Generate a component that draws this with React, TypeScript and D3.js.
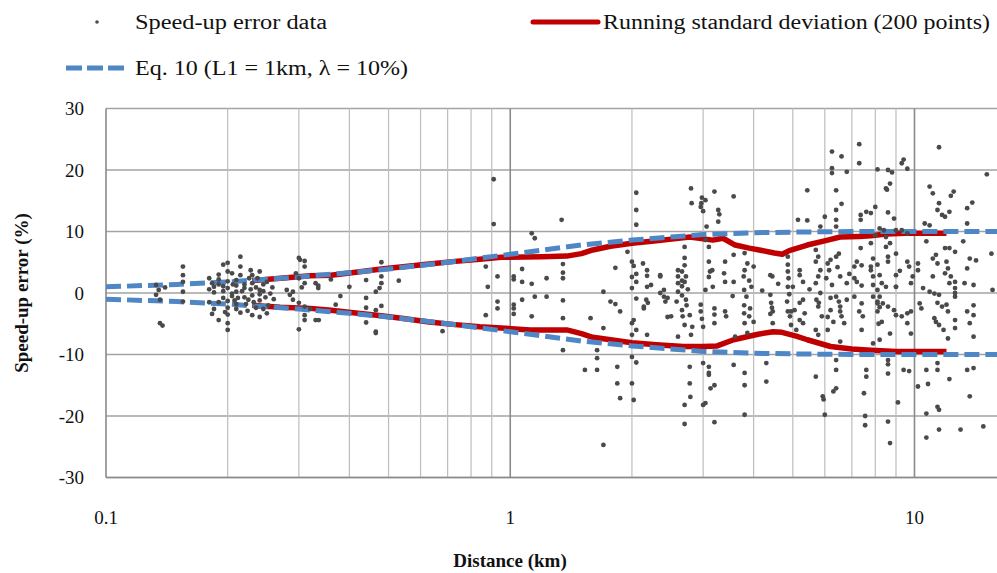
import React from "react";
import * as d3 from "d3";

const W = 997;
const H = 573;
const plot = { left: 106, right: 997, top: 108.5, bottom: 477.5 };

// axis ticks
const xTickValues = [0.1, 1, 10];
const xMinorGrid = [0.2, 0.3, 0.4, 0.5, 0.6, 0.7, 0.8, 0.9, 2, 3, 4, 5, 6, 7, 8, 9];
const xMajorGrid = [1, 10];
const yTickValues = [-30, -20, -10, 0, 10, 20, 30];

// Eq. 10 curve (upper branch; lower branch is its mirror)
const eqDistance = [0.1, 0.15, 0.2, 0.3, 0.4, 0.5, 0.7, 1, 1.5, 2, 3, 4, 5, 7, 10, 16];
const eqValue = [1.0, 1.4, 1.8, 2.6, 3.3, 3.9, 5.0, 6.3, 7.8, 8.6, 9.5, 9.8, 9.9, 10, 10, 10];

// running standard deviation, upper and lower
const stdUpperDistance = [0.23, 0.27, 0.32, 0.36, 0.42, 0.48, 0.55, 0.63, 0.72, 0.84, 0.95, 1.2, 1.38, 1.5, 1.6, 1.77, 2.0, 2.3, 2.54, 2.78, 3.0, 3.17, 3.36, 3.6, 3.9, 4.13, 4.5, 4.71, 4.9, 5.43, 6.1, 6.55, 7.3, 7.8, 8.5, 9.5, 12];
const stdUpperValue = [2.0, 2.4, 2.8, 2.9, 3.4, 3.9, 4.3, 4.7, 5.1, 5.5, 5.8, 5.9, 6.0, 6.4, 7.0, 7.6, 8.1, 8.5, 8.8, 9.1, 8.8, 8.6, 8.9, 7.8, 7.3, 7.0, 6.5, 6.3, 6.9, 7.8, 8.6, 9.1, 9.2, 9.3, 9.6, 9.7, 9.7];
const stdLowerDistance = [0.23, 0.27, 0.32, 0.36, 0.42, 0.48, 0.55, 0.63, 0.72, 0.84, 0.95, 1.12, 1.38, 1.5, 1.6, 1.77, 2.0, 2.3, 2.68, 3.0, 3.25, 3.57, 3.8, 4.1, 4.47, 4.7, 5.1, 5.43, 6.2, 7.0, 7.8, 9, 12];
const stdLowerValue = [-2.0, -2.3, -2.5, -2.8, -3.3, -3.7, -4.2, -4.7, -5.1, -5.5, -5.7, -6.0, -6.0, -6.6, -7.2, -7.6, -8.1, -8.4, -8.7, -8.7, -8.6, -7.6, -7.2, -6.7, -6.3, -6.4, -7.0, -7.6, -8.7, -9.1, -9.3, -9.5, -9.5];

// speed-up error data [distance km, error %]
const nearPoints: [number, number][] = [
  [0.133, 1.3], [0.135, 0.5], [0.133, -0.3], [0.136, -1.1], [0.14, 0.9], [0.136, -4.9], [0.138, -5.3],
  [0.155, 4.3], [0.155, 2.9], [0.155, 1.8], [0.155, 0.2], [0.155, -1.4],
  [0.18, 2.4], [0.183, 1.6], [0.18, 0.6], [0.185, 0.1], [0.195, 4.6], [0.19, 3.0], [0.19, 1.4], [0.195, 0.3],
  [0.195, -0.8], [0.19, -1.5], [0.2, -1.3], [0.2, -2.4], [0.2, 0.8], [0.2, 1.9], [0.205, 3.2], [0.2, 4.9],
  [0.19, -4.4], [0.2, -4.9], [0.2, -6.0], [0.205, -0.1], [0.208, -1.2], [0.21, -2.6], [0.21, 1.2], [0.21, 2.1],
  [0.215, 4.3], [0.215, 5.9], [0.215, 2.9], [0.22, 1.4], [0.217, 0.3], [0.22, -0.7], [0.222, -1.8], [0.224, -2.9],
  [0.228, 3.7], [0.226, 2.4], [0.23, 1.6], [0.228, 0.6], [0.23, -0.4], [0.232, -1.5], [0.23, -3.6], [0.235, 0.9],
  [0.237, 2.4], [0.24, 3.5], [0.24, -0.2], [0.24, -1.2], [0.24, -3.9], [0.245, 1.4], [0.245, 0.3], [0.248, -0.7],
  [0.25, -3.3], [0.252, -2.0], [0.255, -0.1], [0.258, 0.9], [0.212, -0.8], [0.21, 0.2], [0.206, 1.4], [0.197, -3.1],
  [0.185, -2.6], [0.18, -1.5], [0.183, -3.4],
  [0.19, 2.2], [0.2, 3.5], [0.21, -1.8], [0.22, 0.8], [0.225, -1.1], [0.235, -2.4], [0.23, 2.9], [0.215, -3.2],
  [0.205, -0.5], [0.195, 1.1], [0.24, 0.5], [0.25, 1.8], [0.245, -2.6], [0.26, -1.0], [0.2, -3.5], [0.185, 1.0],
  [0.3, 5.7], [0.302, 5.4], [0.31, 5.2], [0.31, 4.3], [0.3, 2.4], [0.31, 1.6], [0.29, 0.2], [0.31, -2.2],
  [0.31, -3.6], [0.31, -4.4], [0.3, -5.9], [0.29, -1.1], [0.33, 1.6], [0.335, 1.2], [0.33, -4.4], [0.336, -4.4],
  [0.335, 0.8], [0.28, 0.5], [0.285, -0.3], [0.3, -1.6], [0.305, 0.9], [0.32, -2.6], [0.295, 3.2],
  [0.44, 2.1], [0.48, 5.0], [0.48, 2.7], [0.48, 1.6], [0.475, 0.8], [0.465, 0.2], [0.44, -0.8], [0.44, -2.4],
  [0.465, -2.8], [0.48, -2.1], [0.44, -4.8], [0.465, -6.3], [0.465, -6.5], [0.53, 2.0], [0.38, -0.5], [0.4, 1.0],
  [0.36, 2.2], [0.37, -1.9],
];

const midPoints: [number, number][] = [
  [0.68, -6.2], [0.87, 4.3], [0.88, 1.0], [0.93, 2.7], [0.91, 18.5], [0.91, 11.2], [0.93, -1.4], [0.93, -2.5], [0.87, -3.6],
  [1.02, 2.7], [1.02, 2.2], [1.07, 3.9], [1.07, 1.8], [1.07, -1.1], [1.02, -1.9], [1.02, -2.5], [1.02, -3.4],
  [1.13, 9.7], [1.15, 8.9], [1.34, 11.9], [1.13, 1.5], [1.23, 2.4], [1.35, 4.7], [1.35, 3.3], [1.35, 2.4],
  [1.15, -0.6], [1.23, -0.6], [1.13, -3.8], [1.35, -1.2], [1.35, -4.1], [1.35, -9.3], [1.58, -4.1], [1.64, -9.3],
  [1.64, -10.6], [1.64, -12.5], [1.53, -12.5], [1.82, 4.1], [1.7, 0.2], [1.77, -1.4], [1.82, -1.8], [1.87, -3.0],
  [1.84, -12.0], [1.84, -14.7], [1.87, -17.1], [1.7, -24.7], [1.95, 6.7], [1.7, -5.7],
  [2.05, 16.3], [2.05, 13.5], [2.05, 11.1], [2.0, 5.1], [2.02, 4.4], [2.05, 3.1], [2.0, 2.6], [2.05, 1.8],
  [2.0, 0.8], [2.05, -0.9], [2.02, -4.4], [2.0, -4.9], [2.05, -6.0], [2.0, -6.8], [2.0, -10.4], [2.0, -14.7],
  [2.02, -17.4], [2.05, -11.3],
  [2.13, 4.8], [2.18, 3.7], [2.18, 2.8], [2.18, 1.0], [2.17, -1.1], [2.19, -1.6], [2.14, -2.5], [2.23, 1.3],
  [2.35, 2.7], [2.4, 0.5], [2.4, -0.6], [2.42, -1.4], [2.45, -3.9], [2.6, 3.7], [2.6, 2.7], [2.6, 1.6],
  [2.6, 0.2], [2.58, -1.4], [2.66, -2.8], [2.7, 7.5], [2.7, 5.7], [2.7, 4.5], [2.72, 2.7], [2.7, 1.8],
  [2.75, 0.6], [2.72, -1.1], [2.73, -2.0], [2.78, -3.6], [2.6, -7.1], [2.82, -5.5], [2.78, -12.0], [2.78, -14.7],
  [2.79, -16.9], [2.7, -18.2], [2.7, -21.3], [2.8, 17.0], [2.81, 14.6], [2.96, -1.9], [2.96, -3.0], [2.98, -4.2],
  [3.0, -5.5], [2.96, 14.0], [3.0, 13.3], [3.04, 15.1], [3.06, 10.8], [3.04, 8.6], [3.04, 0.5], [3.1, 7.5],
  [3.1, 5.1], [3.12, 3.5], [3.1, 2.6], [3.16, 3.7], [3.17, 1.0], [3.2, -2.5], [3.2, -3.5], [3.2, -4.9],
  [3.2, 16.5], [3.27, 13.5], [3.29, 12.8], [3.27, 11.6], [3.1, -12.0], [3.1, -13.3], [3.13, -15.5], [3.2, -15.0],
  [3.04, -17.9], [3.2, -21.0], [3.4, 5.1], [3.38, 3.2], [3.4, 1.8], [3.4, -3.0], [3.42, -3.8], [3.57, 15.7],
  [3.57, 6.2], [3.57, 1.8], [3.55, -0.5], [3.57, -11.7], [3.6, -7.1], [3.8, -19.8], [2.97, 14.6], [2.98, 15.5],
  [3.0, -11.4], [3.0, -18.2], [3.1, -13.0], [2.35, 0.0], [2.45, -0.8], [2.66, 3.5], [2.66, 2.0], [2.66, 1.1],
  [2.66, -0.4], [2.67, -3.8], [2.7, -5.2], [2.8, -6.8], [2.14, -2.2], [2.18, -6.8], [2.35, 2.9], [2.5, -3.8],
];

const farPoints: [number, number][] = [
  [7.3, 24.2], [7.3, 21.1], [6.25, 23.0], [6.6, 22.2], [6.25, 20.3], [6.25, 19.5], [6.8, 19.7], [5.43, 16.7],
  [6.4, 16.7], [6.6, 14.5], [6.4, 13.5], [5.15, 11.9], [5.43, 11.8], [6.0, 12.4], [6.4, 11.9], [5.85, 10.8],
  [6.4, 10.8], [7.36, 12.7], [7.6, 13.2], [7.36, 11.9],
  [3.8, 6.5], [3.86, 4.8], [3.8, 3.7], [3.78, 2.7], [3.9, 2.0], [3.95, 1.0], [3.79, 0.5], [3.84, -0.6],
  [3.79, -2.0], [3.92, -2.5], [3.79, -3.3], [3.9, -3.8], [3.8, -4.9], [4.0, -4.7], [3.86, -6.5], [3.8, -13.0],
  [3.8, -15.0], [4.0, 4.3], [4.4, 2.9], [4.4, -0.3], [4.42, -1.6], [4.44, -2.4], [4.46, -3.0], [4.4, -3.4],
  [4.46, -4.9], [4.3, -11.4], [4.3, -14.4], [4.86, 5.9], [4.86, 4.6], [4.86, 3.5], [4.88, 2.4], [4.86, 1.0],
  [4.9, -0.2], [4.84, -1.4], [4.86, -3.0], [4.95, -3.0], [4.92, -3.8], [4.95, -5.2], [5.1, -6.0], [5.2, 3.7],
  [5.2, 2.9], [5.3, 1.8], [5.3, -1.1], [5.2, -1.6], [5.35, -3.3], [5.3, -4.9], [5.7, 7.0], [5.78, 5.9],
  [5.7, 5.1], [5.85, 3.7], [5.78, 2.7], [5.7, 1.6], [5.85, 0.0], [5.72, -1.1], [5.78, -2.2], [5.9, -3.8],
  [5.7, -6.0], [5.78, -6.8], [5.7, -13.6], [5.93, -16.8], [5.96, -17.3], [6.0, -19.8], [6.1, 4.8], [6.15, 3.7],
  [6.05, 2.4], [6.25, 1.3], [6.2, -0.8], [6.2, -2.8], [6.1, -3.9], [6.3, -4.7], [6.1, -6.0], [6.4, -10.9],
  [6.4, -12.5], [6.4, -15.5], [6.3, -16.0], [6.5, 6.4], [6.4, 5.9], [6.45, 4.2], [6.55, 2.7], [6.4, -0.6],
  [6.5, -1.4], [6.55, -2.2], [6.6, -3.8], [6.7, -4.9], [6.55, -7.9], [6.8, 1.6], [6.8, -1.1], [7.1, 4.3],
  [7.2, 1.8], [7.4, 1.2], [7.1, -0.6], [7.4, -1.7], [7.3, -3.0], [7.2, 5.1], [7.36, 7.3], [7.4, 4.5],
  [7.45, -3.8], [7.4, -6.0], [7.6, -12.5], [7.6, -13.6], [7.5, -16.3], [7.55, -20.0], [7.55, -21.5],
  [4.45, 2.7], [5.0, 1.0], [5.05, -2.8], [5.2, -4.4], [5.8, -1.6], [6.2, 5.4], [6.55, -3.0], [6.9, 3.1],
  [7.1, 2.4], [7.8, 4.3], [7.9, -0.6], [8.1, -1.7], [8.2, -2.3], [8.5, 1.0], [8.6, 5.1], [9.0, 1.0],
  [8.9, -2.8], [9.6, -3.3], [9.2, 3.6], [10.5, 0.8], [10.4, -2.5], [4.6, 1.5], [4.2, 0.4], [5.5, 0.6],
  [11.5, 23.7], [9.3, 21.1], [9.4, 21.7], [8.1, 20.1], [8.6, 20.0], [8.8, 19.6], [9.6, 20.2], [15.1, 19.3],
  [8.7, 17.8], [8.5, 17.0], [8.55, 16.8], [10.9, 17.3], [11.1, 16.2], [12.5, 16.5], [12.3, 15.8], [11.5, 14.6],
  [13.9, 14.7], [13.5, 13.8], [11.4, 13.5], [12.2, 13.2], [8.0, 14.0], [7.8, 13.0], [8.6, 13.1], [8.9, 12.1],
  [11.7, 12.7], [11.9, 12.4], [13.5, 11.3], [10.6, 11.3], [10.9, 11.0],
  [8.2, 10.5], [8.4, 10.2], [9.0, 10.2], [9.3, 10.2], [9.6, 9.7], [8.0, 9.4], [8.5, 9.1],
  [7.8, 8.1], [7.9, 5.6], [8.1, 4.6], [7.8, 3.7], [7.9, 2.7], [8.2, 2.9], [8.3, 1.6], [7.9, 1.3],
  [8.1, 0.5], [8.2, -0.6], [8.1, -1.4], [8.35, -1.7], [8.1, -3.0], [8.3, -4.7], [8.15, -5.0], [8.5, 7.5],
  [8.7, 8.1], [9.0, 6.4], [8.6, 5.9], [9.0, 2.9], [9.0, 1.0], [8.6, -2.2], [9.0, -3.6], [9.3, -3.8],
  [8.7, -6.6], [8.2, -7.6], [7.9, -8.2], [9.6, 5.1], [9.7, 4.3], [9.9, 2.7], [9.8, 1.6], [9.8, -3.0],
  [9.6, -4.9], [9.8, -6.6], [10.2, 4.8], [10.2, 3.7], [10.3, -1.7], [10.7, 8.4], [11.1, 5.6], [11.3, 6.2],
  [11.4, 4.8], [11.1, 2.7], [10.9, 0.2], [11.2, -0.1], [11.5, -0.3], [11.4, -1.6], [11.7, -2.2], [11.2, -4.1],
  [11.3, -4.7], [11.5, -5.2], [11.8, -6.0], [12.1, -7.4], [11.9, 7.3], [12.2, 7.3], [12.0, 5.1], [12.1, 4.0],
  [11.9, 3.2], [12.3, 2.7], [12.2, 1.6], [12.0, -1.9], [12.1, -3.0], [12.6, 1.8], [12.6, 0.8], [12.6, 0.0],
  [12.6, -0.6], [12.6, -4.4], [12.6, -5.7], [12.6, 6.7], [13.2, 8.4], [13.7, 5.6], [14.2, 5.3], [13.5, 4.0],
  [13.3, 1.6], [14.0, 1.3], [14.0, -2.0], [13.5, -3.0], [14.0, -3.6], [13.7, -4.9], [14.0, -7.1], [15.5, 6.4],
  [15.6, 0.5],
  [8.6, -10.9], [8.6, -11.6], [8.6, -13.1], [9.4, -12.5], [9.7, -12.7], [10.7, -12.5], [11.4, -11.4], [11.4, -12.5],
  [12.2, -14.0], [10.2, -15.2], [10.8, -14.8], [13.5, -12.5], [14.0, -12.2], [13.7, -16.8], [9.1, -17.8], [11.4, -18.5],
  [11.5, -19.0], [10.7, -19.6], [8.6, -20.9], [11.5, -22.2], [13.0, -22.2], [14.8, -21.7], [10.7, -23.5], [8.7, -24.4],
];

const serif = "'Liberation Serif', 'Times New Roman', serif";
const blue = "#4f86c6";
const red = "#c00000";
const dotColor = "#4a4a4a";

export default function App() {
  const x = d3.scaleLog().domain([0.1, 16]).range([plot.left, plot.right]);
  const y = d3.scaleLinear().domain([-30, 30]).range([plot.bottom, plot.top]);

  const line = d3
    .line<[number, number]>()
    .x((d) => x(d[0]))
    .y((d) => y(d[1]));

  const eqUpper = eqDistance.map((d, i) => [d, eqValue[i]] as [number, number]);
  const eqLower = eqDistance.map((d, i) => [d, -eqValue[i]] as [number, number]);
  const stdUpper = stdUpperDistance.map((d, i) => [d, stdUpperValue[i]] as [number, number]);
  const stdLower = stdLowerDistance.map((d, i) => [d, stdLowerValue[i]] as [number, number]);
  const points = [...nearPoints, ...midPoints, ...farPoints];

  return (
    <div style={{ position: "absolute", left: 0, top: 0 }}>
      <svg width={W} height={H} style={{ display: "block", background: "#fff" }}>
        {/* horizontal grid */}
        {yTickValues.map((t) => (
          <line key={"h" + t} x1={plot.left} x2={plot.right} y1={y(t)} y2={y(t)} stroke="#a3a3a3" strokeWidth={1.5} />
        ))}
        {/* vertical grid */}
        {xMinorGrid.map((t) => (
          <line key={"v" + t} x1={x(t)} x2={x(t)} y1={plot.top} y2={plot.bottom} stroke="#bdbdbd" strokeWidth={1.2} />
        ))}
        {xMajorGrid.map((t) => (
          <line key={"V" + t} x1={x(t)} x2={x(t)} y1={plot.top} y2={plot.bottom} stroke="#8a8a8a" strokeWidth={1.6} />
        ))}
        {/* axes */}
        <line x1={plot.left} x2={plot.left} y1={plot.top} y2={plot.bottom} stroke="#8a8a8a" strokeWidth={1.6} />
        <line x1={plot.left} x2={plot.right} y1={plot.bottom} y2={plot.bottom} stroke="#8a8a8a" strokeWidth={1.6} />

        {/* running std */}
        <path d={line(stdUpper) || ""} fill="none" stroke={red} strokeWidth={5.5} strokeLinejoin="round" />
        <path d={line(stdLower) || ""} fill="none" stroke={red} strokeWidth={5.5} strokeLinejoin="round" />
        {/* Eq. 10 */}
        <path d={line(eqUpper) || ""} fill="none" stroke={blue} strokeWidth={5} strokeDasharray="15 6" />
        <path d={line(eqLower) || ""} fill="none" stroke={blue} strokeWidth={5} strokeDasharray="15 6" />

        {/* scatter */}
        {points.map((p, i) => (
          <circle key={i} cx={x(p[0])} cy={y(p[1])} r={2.4} fill={dotColor} />
        ))}

        {/* y tick labels */}
        {yTickValues.map((t) => (
          <text key={"yl" + t} x={84} y={y(t) + 6.5} textAnchor="end" fontFamily={serif} fontSize={19} fill="#111">
            {t}
          </text>
        ))}
        {/* x tick labels */}
        {xTickValues.map((t) => (
          <text key={"xl" + t} x={x(t)} y={524} textAnchor="middle" fontFamily={serif} fontSize={19} fill="#111">
            {t}
          </text>
        ))}

        {/* axis titles */}
        <text
          transform="translate(28,293) rotate(-90)"
          textAnchor="middle"
          fontFamily={serif}
          fontWeight="bold"
          fontSize={19}
          fill="#111"
        >
          Speed-up error (%)
        </text>
        <text x={510} y={567} textAnchor="middle" fontFamily={serif} fontWeight="bold" fontSize={19} fill="#111">
          Distance (km)
        </text>

        {/* legend */}
        <circle cx={97} cy={22} r={1.8} fill={dotColor} />
        <text x={135} y={29} fontFamily={serif} fontSize={20} fill="#111" textLength={192} lengthAdjust="spacingAndGlyphs">
          Speed-up error data
        </text>
        <line x1={533} x2={598} y1={22} y2={22} stroke={red} strokeWidth={5} strokeLinecap="round" />
        <text x={603} y={29} fontFamily={serif} fontSize={20} fill="#111" textLength={387} lengthAdjust="spacingAndGlyphs">
          Running standard deviation (200 points)
        </text>
        <line x1={66} x2={124} y1={68} y2={68} stroke={blue} strokeWidth={5} strokeDasharray="16 5" />
        <text x={135} y={75} fontFamily={serif} fontSize={20} fill="#111" textLength={273} lengthAdjust="spacingAndGlyphs">
          Eq. 10 (L1 = 1km, λ = 10%)
        </text>
      </svg>
    </div>
  );
}
